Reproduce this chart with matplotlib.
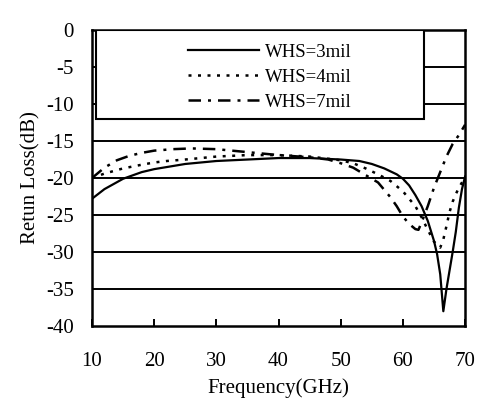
import numpy as np
import matplotlib
matplotlib.use("Agg")
import matplotlib.pyplot as plt
from matplotlib.patches import Rectangle

plt.rcParams['font.family'] = ['Liberation Serif', 'DejaVu Serif']
plt.rcParams['axes.unicode_minus'] = False

# WHS = 3 mil (solid)
f3 = [10, 12, 15, 18, 20, 25, 30, 35, 40, 45, 50, 53, 55, 57, 59, 60, 61, 62,
      63, 64, 65, 65.5, 66, 66.5, 67, 67.5, 68, 68.5, 69, 69.5, 70]
rl3 = [-22.8, -21.5, -20.1, -19.2, -18.8, -18.1, -17.7, -17.5, -17.3, -17.3,
       -17.5, -17.7, -18.1, -18.7, -19.5, -20.1, -21.0, -22.3, -23.8, -25.8,
       -28.5, -30.3, -33.0, -38.0, -35.0, -32.5, -30.0, -27.3, -24.0, -21.5, -19.8]

# WHS = 4 mil (dotted)
f4 = [10, 12, 15, 18, 20, 22, 25, 30, 35, 40, 45, 50, 52, 54, 56, 58, 60, 61,
      62, 63, 64, 65, 66, 66.5, 67, 67.5, 68, 68.5, 69, 69.5, 70]
rl4 = [-20.0, -19.4, -18.7, -18.2, -17.9, -17.7, -17.5, -17.1, -16.9, -16.9,
       -17.1, -17.6, -18.0, -18.7, -19.5, -20.4, -21.8, -22.8, -23.8, -25.3,
       -27.0, -28.6, -29.4, -28.3, -26.5, -24.6, -23.2, -22.2, -21.3, -20.6, -20.0]

# WHS = 7 mil (dash-dot)
f7 = [10, 12, 14, 16, 18, 20, 23, 26, 30, 35, 40, 45, 48, 50, 52, 54, 56, 58,
      59, 60, 61, 62, 62.5, 63, 64, 65, 66, 67, 68, 69, 70]
rl7 = [-20.0, -18.6, -17.6, -17.0, -16.6, -16.3, -16.1, -16.0, -16.1, -16.5,
       -16.9, -17.2, -17.5, -18.0, -18.6, -19.6, -20.6, -22.6, -23.8, -25.2,
       -26.2, -26.9, -27.0, -26.0, -23.8, -21.3, -19.2, -17.1, -15.4, -14.2, -12.8]

xticks = [10, 20, 30, 40, 50, 60, 70]
yticks = [0, -5, -10, -15, -20, -25, -30, -35, -40]

fig = plt.figure(figsize=(4.78, 4.03), dpi=100)
ax = fig.add_axes([0.1925, 0.191, 0.7805, 0.7345])

for y in yticks[1:-1]:
    ax.axhline(y, color='black', lw=1.4, zorder=1)

ax.plot(f3, rl3, color='black', lw=1.6, label='WHS=3mil', zorder=3)
ax.plot(f4, rl4, color='black', lw=1.8, linestyle=(0, (1.2, 2.6)),
        label='WHS=4mil', zorder=3)
ax.plot(f7, rl7, color='black', lw=1.8, linestyle=(0, (5, 2.8, 1.2, 2.8)),
        label='WHS=7mil', zorder=3)

ax.set_xlim(10, 70)
ax.set_ylim(-40, 0)
ax.set_xticks(xticks)
ax.set_yticks(yticks)
ax.tick_params(axis='x', direction='in', length=5, width=1.4, pad=19,
               labelsize=15)
ax.tick_params(axis='y', length=0, pad=13, labelsize=15)
for s in ax.spines.values():
    s.set_linewidth(1.8)

ax.set_xlabel('Frequency(GHz)', fontsize=15, labelpad=5)
ax.set_ylabel('Retun Loss(dB)', fontsize=15, labelpad=4)

# legend box
ax.add_patch(Rectangle((0.011, 0.70), 0.878, 0.30, transform=ax.transAxes,
                       facecolor='white', edgecolor='black', lw=1.5, zorder=4))
leg = ax.legend(loc='upper left', bbox_to_anchor=(0.232, 0.985), frameon=False,
                fontsize=13.5, handlelength=3.8, handletextpad=0.3,
                borderpad=0, labelspacing=0.42)
leg.set_zorder(5)

fig.savefig('out.png', dpi=100)
